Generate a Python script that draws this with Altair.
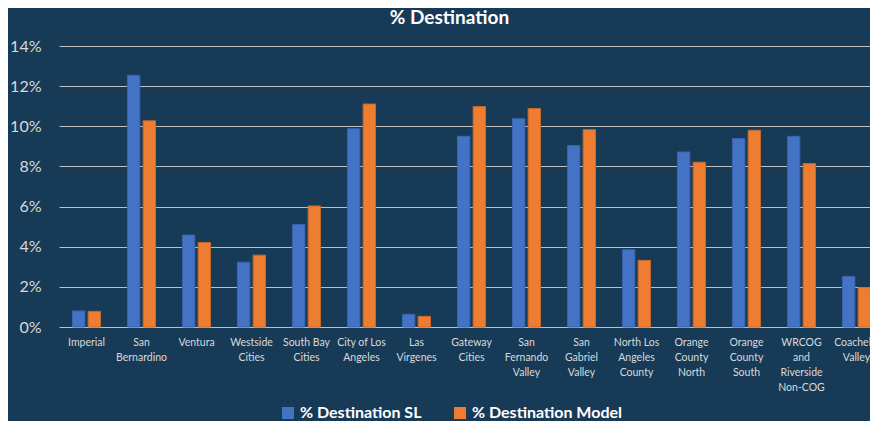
import altair as alt
import pandas as pd

categories = ["Imperial", "San Bernardino", "Ventura", "Westside Cities", "South Bay Cities",
              "City of Los Angeles", "Las Virgenes", "Gateway Cities", "San Fernando Valley",
              "San Gabriel Valley", "North Los Angeles County", "Orange County North",
              "Orange County South", "WRCOG and Riverside Non-COG", "Coachella Valley"]
label_lines = ["Imperial", "San\nBernardino", "Ventura", "Westside\nCities", "South Bay\nCities",
               "City of Los\nAngeles", "Las\nVirgenes", "Gateway\nCities", "San\nFernando\nValley",
               "San\nGabriel\nValley", "North Los\nAngeles\nCounty", "Orange\nCounty\nNorth",
               "Orange\nCounty\nSouth", "WRCOG\nand\nRiverside\nNon-COG", "Coachella\nValley"]
pct_sl = [0.80, 12.54, 4.58, 3.23, 5.11, 9.88, 0.63, 9.50, 10.38, 9.04, 3.85, 8.72, 9.39, 9.50, 2.52]
pct_model = [0.78, 10.27, 4.21, 3.58, 6.03, 11.11, 0.53, 10.98, 10.88, 9.83, 3.32, 8.21, 9.80, 8.14, 1.96]
series = ["% Destination SL", "% Destination Model"]
y_ticks = [0, 0.02, 0.04, 0.06, 0.08, 0.10, 0.12, 0.14]

rows = []
for c, lab, a, b in zip(categories, label_lines, pct_sl, pct_model):
    rows.append({"category": c, "label": lab, "series": series[0], "value": a / 100})
    rows.append({"category": c, "label": lab, "series": series[1], "value": b / 100})
df = pd.DataFrame(rows)

FONT = "Lato"
BG = "#173B57"

chart = alt.Chart(df).mark_bar(strokeWidth=1).encode(
    x=alt.X("label:N", sort=label_lines, title=None,
            scale=alt.Scale(range=[0, 825], paddingInner=0.49, paddingOuter=0.245),
            axis=alt.Axis(labelExpr="split(datum.value, '\\n')", labelAngle=0,
                          labelFont=FONT, labelFontSize=10.5, labelColor="#D9D9D9",
                          labelLineHeight=15, labelPadding=15, ticks=False, domain=False,
                          grid=False, labelBaseline="middle")),
    xOffset=alt.XOffset("series:N", sort=series,
                        scale=alt.Scale(paddingInner=0.21, paddingOuter=0)),
    y=alt.Y("value:Q", title=None,
            scale=alt.Scale(domain=[0, 0.14], nice=False),
            axis=alt.Axis(values=y_ticks, format=".0%", labelFont=FONT, labelFontSize=16,
                          labelColor="#D9D9D9", labelPadding=18, ticks=False, tickSize=0,
                          domain=False, grid=True, gridColor="#BFBFBF", gridWidth=1)),
    color=alt.Color("series:N", sort=series,
                    scale=alt.Scale(domain=series, range=["#4472C4", "#ED7D31"]),
                    legend=alt.Legend(title=None, orient="none", direction="horizontal",
                                      legendX=221, legendY=359, symbolType="square",
                                      symbolSize=144, symbolStrokeWidth=0,
                                      labelFont=FONT, labelFontSize=16, labelFontWeight="bold",
                                      labelColor="#FFFFFF", labelOffset=4, columnPadding=30)),
    stroke=alt.Stroke("series:N", sort=series,
                      scale=alt.Scale(domain=series, range=["#3A64AE", "#C9682A"]),
                      legend=None),
).properties(
    width=811,
    height=281,
    background=BG,
    padding={"left": 51, "top": 38, "right": 0, "bottom": 94},
    autosize=alt.AutoSizeParams(type="none"),
    title=alt.TitleParams("% Destination", font=FONT, fontSize=19, fontWeight="bold",
                          color="#FFFFFF", anchor="middle", frame="group", dx=-15,
                          offset=12, dy=17, baseline="alphabetic"),
).configure_view(stroke=None)

chart.save("out.html", embed_options={"renderer": "svg", "actions": False})
